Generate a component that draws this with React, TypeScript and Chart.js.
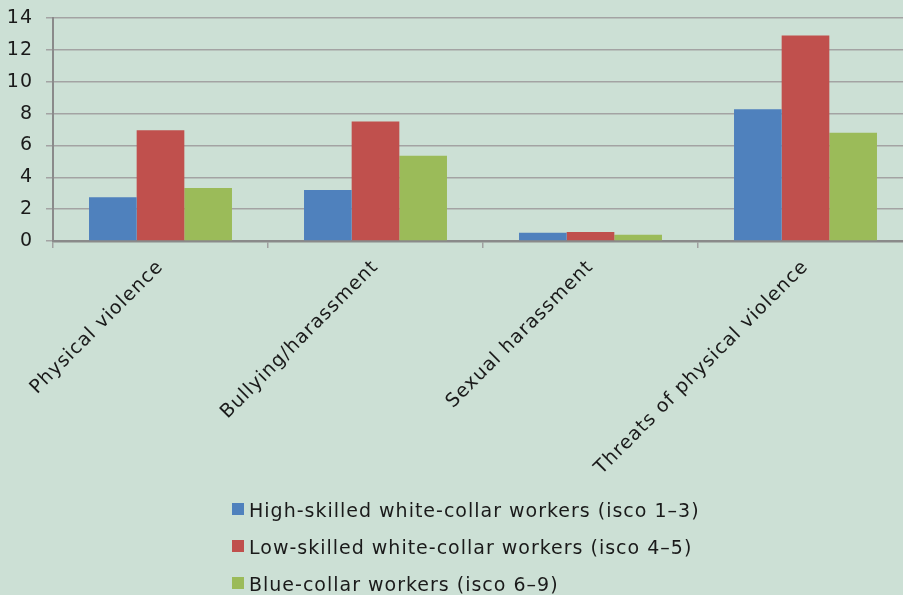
import React, { useEffect, useRef } from 'react';
import { Chart, registerables } from 'chart.js';

Chart.register(...registerables);

const categories = ['Physical violence', 'Bullying/harassment', 'Sexual harassment', 'Threats of physical violence'];
const seriesNames = [
  'High-skilled white-collar workers (isco 1–3)',
  'Low-skilled white-collar workers (isco 4–5)',
  'Blue-collar workers (isco 6–9)',
];
const highSkilled = [2.75, 3.2, 0.52, 8.27];
const lowSkilled = [6.95, 7.5, 0.56, 12.9];
const blueCollar = [3.33, 5.35, 0.4, 6.8];
const seriesColors = ['#4f81bd', '#c0504d', '#9bbb59'];
const yMin = 0;
const yMax = 14;
const yStep = 2;

const FONT = "'DejaVu Sans', Verdana, sans-serif";
const FONT_SIZE = 19;
const SPACING = '1px';
const BG = '#cce0d5';

const spacingPlugin = {
  id: 'letterSpacing',
  beforeLayout(chart: any) {
    (chart.ctx as any).letterSpacing = SPACING;
  },
  beforeDraw(chart: any) {
    (chart.ctx as any).letterSpacing = SPACING;
  },
};

export default function App() {
  const canvasRef = useRef<HTMLCanvasElement | null>(null);

  useEffect(() => {
    if (!canvasRef.current) return;
    const seriesValues = [highSkilled, lowSkilled, blueCollar];
    const chart = new Chart(canvasRef.current, {
      type: 'bar',
      data: {
        labels: categories,
        datasets: seriesNames.map((name, i) => ({
          label: name,
          data: seriesValues[i],
          backgroundColor: seriesColors[i],
          borderWidth: 0,
          categoryPercentage: 0.665,
          barPercentage: 1,
        })),
      },
      plugins: [spacingPlugin],
      options: {
        animation: false,
        responsive: false,
        maintainAspectRatio: false,
        layout: { padding: { top: 18, left: 0, right: 0, bottom: 0 } },
        plugins: {
          legend: { display: false },
          tooltip: { enabled: false },
        },
        scales: {
          x: {
            afterFit: (scale: any) => {
              scale.height = 354;
            },
            grid: {
              drawOnChartArea: false,
              offset: true,
              tickLength: 7,
              color: '#a0a0a0',
              lineWidth: 1.5,
            },
            border: { color: '#8a8a8a', width: 2.5 },
            ticks: {
              minRotation: 45,
              maxRotation: 45,
              autoSkip: false,
              padding: 8,
              color: '#1a1a1a',
              font: { family: FONT, size: FONT_SIZE },
            },
          },
          y: {
            min: yMin,
            max: yMax,
            afterFit: (scale: any) => {
              scale.width = 53;
              scale.paddingTop = 0;
              scale.paddingBottom = 0;
            },
            grid: {
              color: '#a3a3a3',
              lineWidth: 1.5,
              tickLength: 7,
            },
            border: { color: '#8a8a8a', width: 2 },
            ticks: {
              stepSize: yStep,
              padding: 13,
              color: '#1a1a1a',
              font: { family: FONT, size: FONT_SIZE },
            },
          },
        },
      },
    });
    return () => chart.destroy();
  }, []);

  return (
    <div
      style={{
        position: 'fixed',
        left: 0,
        top: 0,
        width: 913,
        height: 595,
        background: BG,
        overflow: 'hidden',
      }}
    >
      <canvas ref={canvasRef} width={913} height={595} style={{ display: 'block', width: 913, height: 595 }} />
      {seriesNames.map((name, i) => (
        <div
          key={name}
          style={{
            position: 'absolute',
            left: 232,
            top: 499 + 37 * i,
            height: 22,
            fontFamily: FONT,
            fontSize: FONT_SIZE,
            letterSpacing: SPACING,
            lineHeight: '22px',
            color: '#1a1a1a',
            whiteSpace: 'nowrap',
          }}
        >
          <span
            style={{
              position: 'absolute',
              left: 0,
              top: 4,
              width: 12,
              height: 12,
              background: seriesColors[i],
            }}
          />
          <span style={{ position: 'absolute', left: 17, top: 0 }}>{name}</span>
        </div>
      ))}
    </div>
  );
}
